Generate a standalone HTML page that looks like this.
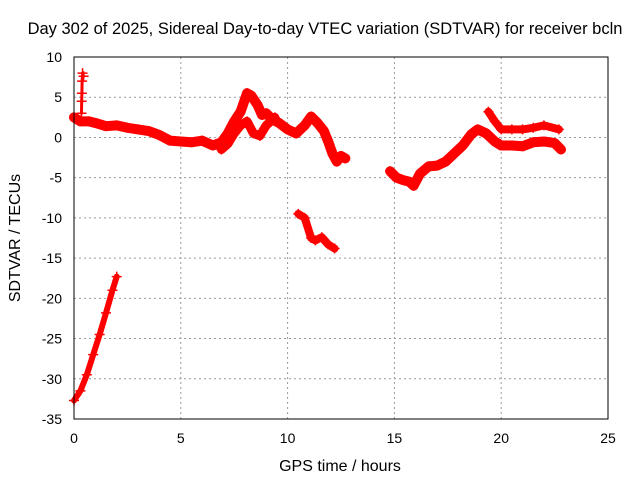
<!DOCTYPE html>
<html><head><meta charset="utf-8"><style>
body{margin:0;background:#fff}
svg{display:block;font-family:"Liberation Sans",sans-serif;font-size:14px}
</style></head><body>
<svg id="chart" width="640" height="480" xmlns="http://www.w3.org/2000/svg">
<text x="325" y="34" text-anchor="middle" font-size="16.5">Day 302 of 2025, Sidereal Day-to-day VTEC variation (SDTVAR) for receiver bcln</text>
<text x="340" y="471" text-anchor="middle" font-size="16">GPS time / hours</text>
<text transform="translate(20,238) rotate(-90)" text-anchor="middle" font-size="16">SDTVAR / TECUs</text>
<g id="grid"></g>
<g id="ticks"></g>
<g id="series"></g>
<rect x="74" y="57" width="534" height="362" fill="none" stroke="#000" stroke-width="1"/>
</svg>
<script>
const xTicks=[0,5,10,15,20,25];
const yTicks=[10,5,0,-5,-10,-15,-20,-25,-30,-35];
const segA_t=[0,0.3,0.6,0.9,1.2,1.5,1.8,2.0];
const segA_v=[-32.7,-31.5,-29.5,-27,-24.5,-21.8,-19,-17.3];
const segB_t=[0.35,0.36,0.37,0.38,0.4,0.45];
const segB_v=[3,4.5,5.5,7,8,7.6];
const segC_t=[0,0.3,0.7,1.0,1.5,2.0,2.5,3.0,3.5,4.0,4.5,5.0,5.5,6.0,6.5,6.9,7.2,7.5,7.8,8.1,8.3,8.6,8.8,9.0,9.3,9.6,10,10.4,10.8,11.1,11.4,11.7,11.9,12.1,12.3,12.5,12.7];
const segC_v=[2.5,2.0,2.0,1.8,1.4,1.5,1.2,1.0,0.8,0.3,-0.4,-0.5,-0.6,-0.4,-1.0,-0.6,0.5,2.0,3.2,5.5,5.2,4.0,2.8,3.0,2.2,1.8,1.0,0.5,1.5,2.6,1.8,0.8,-0.5,-2.0,-3.0,-2.3,-2.6];
const segG_t=[6.9,7.2,7.5,7.8,8.1,8.4,8.7,9.0,9.4];
const segG_v=[-1.5,-0.8,0.5,1.5,2.0,0.5,0.2,1.5,2.5];
const segD_t=[10.5,10.8,11.1,11.3,11.6,11.9,12.2];
const segD_v=[-9.5,-10,-12.5,-12.8,-12.4,-13.3,-13.8];
const segE_t=[14.8,15.1,15.4,15.7,15.9,16.2,16.6,17.0,17.4,17.8,18.2,18.6,18.9,19.3,19.7,20.0,20.5,21.0,21.5,22.0,22.5,22.8];
const segE_v=[-4.2,-5.0,-5.3,-5.5,-6.0,-4.5,-3.6,-3.5,-3.0,-2.0,-1.0,0.4,1.0,0.5,-0.5,-1.0,-1.0,-1.1,-0.6,-0.5,-0.7,-1.5];
const segF_t=[19.4,19.7,20.0,20.5,21.0,21.5,22.0,22.7];
const segF_v=[3.2,2.0,1.0,1.0,1.0,1.2,1.5,1.0];
const segments=[[segA_t,segA_v,6],[segB_t,segB_v,3],[segC_t,segC_v,10],[segG_t,segG_v,9],[segD_t,segD_v,8],[segE_t,segE_v,10],[segF_t,segF_v,8]];
const X=t=>74+t*(534/25);
const Y=v=>57+(10-v)*(362/45);
const NS="http://www.w3.org/2000/svg";
const grid=document.getElementById('grid'),ticks=document.getElementById('ticks'),ser=document.getElementById('series');
function mk(tag,attrs,parent){const e=document.createElementNS(NS,tag);for(const k in attrs)e.setAttribute(k,attrs[k]);parent.appendChild(e);return e;}
xTicks.forEach(t=>{
 if(t>0&&t<25){const l=mk('line',{x1:X(t),x2:X(t),y1:57,y2:419,stroke:'#999','stroke-dasharray':'2,3'},grid);
 
 }
 const tx=mk('text',{x:X(t),y:443,'text-anchor':'middle'},ticks);tx.textContent=t;
 
 
});
yTicks.forEach(v=>{
 if(v<10&&v>-35){const l=mk('line',{x1:74,x2:608,y1:Y(v),y2:Y(v),stroke:'#999','stroke-dasharray':'2,3'},grid);
 
 }
 const tx=mk('text',{x:62,y:Y(v)+5,'text-anchor':'end'},ticks);tx.textContent=v;
 
 
});
segments.forEach(([ts,vs,w])=>{
 const pts=ts.map((t,i)=>X(t)+','+Y(vs[i])).join(' ');
 const pl=mk('polyline',{points:pts,fill:'none',stroke:'#f00','stroke-width':w,'stroke-linejoin':'round','stroke-linecap':'round'},ser);
 
 
 ts.forEach((t,i)=>{const x=X(t),y=Y(vs[i]);
  const p=mk('path',{d:`M${x-5},${y}H${x+5}M${x},${y-5}V${y+5}`,stroke:'#f00','stroke-width':1.5},ser);
  
  });
});
</script>
</body></html>
